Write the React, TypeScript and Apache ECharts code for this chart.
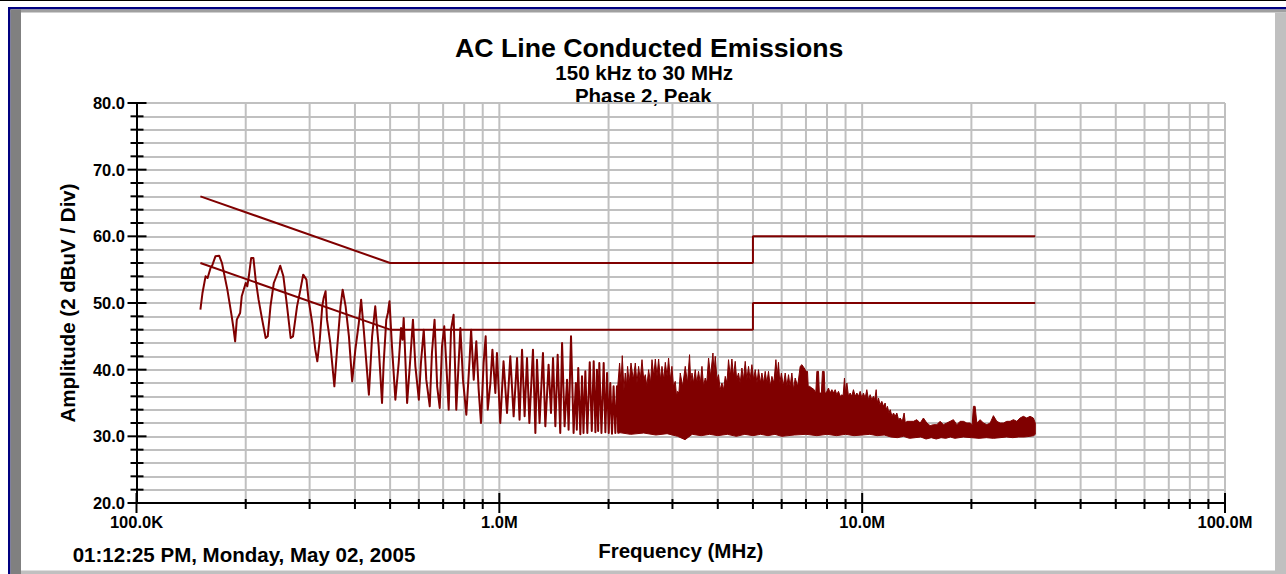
import React, { useEffect, useRef } from "react";
import * as echarts from "echarts";

const FONT = "'Liberation Sans', Arial, Helvetica, sans-serif";
const MAROON = "#800000";
const GRID_GRAY = "#c0c0c0";

const titleText = "AC Line Conducted Emissions";
const subtitleLine1 = "150 kHz to 30 MHz";
const subtitleLine2 = "Phase 2, Peak";
const xAxisTitle = "Frequency (MHz)";
const yAxisTitle = "Amplitude (2 dBuV / Div)";
const timestampText = "01:12:25 PM, Monday, May 02, 2005";

// axis ticks (MHz / dBuV)
const xDecadeTicks = [0.1, 1, 10, 100];
const xDecadeLabels = ["100.0K", "1.0M", "10.0M", "100.0M"];
const xMinorTicks = [
  0.2, 0.3, 0.4, 0.5, 0.6, 0.7, 0.8, 0.9,
  2, 3, 4, 5, 6, 7, 8, 9,
  20, 30, 40, 50, 60, 70, 80, 90,
];
const yMajorTicks = [20, 30, 40, 50, 60, 70, 80];
const yMinorTicks = [
  22, 24, 26, 28, 32, 34, 36, 38, 42, 44, 46, 48, 52, 54, 56, 58, 62, 64, 66, 68, 72, 74, 76, 78,
];

// limit lines [MHz, dBuV]
const quasiPeakLimit = [[0.15, 66], [0.5, 56], [5, 56], [5, 60], [30, 60]];
const averageLimit = [[0.15, 56], [0.5, 46], [5, 46], [5, 50], [30, 50]];

// measured peak trace, resolvable part [MHz, dBuV]
const traceLow = [
  [0.150, 49.0], [0.152, 51.5], [0.155, 54.0], [0.157, 53.75], [0.160, 55.25], [0.162, 55.75],
  [0.165, 57.0], [0.169, 57.1], [0.172, 56.0], [0.178, 52.0], [0.183, 48.0], [0.185, 46.25],
  [0.187, 44.25], [0.189, 47.5], [0.193, 48.5], [0.195, 51.0], [0.200, 53.0], [0.202, 52.5],
  [0.204, 54.0], [0.207, 56.75], [0.210, 56.75], [0.213, 53.5], [0.217, 50.5], [0.222, 47.5],
  [0.227, 44.75], [0.230, 45.0], [0.234, 49.5], [0.239, 53.0], [0.245, 54.5], [0.249, 55.6],
  [0.254, 54.0], [0.260, 49.5], [0.266, 44.75], [0.270, 45.0], [0.277, 49.5], [0.283, 52.0],
  [0.288, 54.25], [0.294, 53.5], [0.298, 50.5], [0.305, 47.0], [0.311, 43.0], [0.315, 41.25],
  [0.320, 44.5], [0.325, 49.5], [0.328, 50.75], [0.332, 51.75], [0.335, 47.5], [0.342, 44.0],
  [0.351, 37.5], [0.357, 43.0], [0.365, 49.5], [0.370, 52.0], [0.377, 49.5], [0.385, 45.0],
  [0.393, 38.25], [0.401, 43.0], [0.410, 47.0], [0.416, 50.5], [0.423, 46.0], [0.437, 36.25],
  [0.446, 45.0], [0.455, 49.5], [0.465, 43.5],
];
const traceMid = [
  [0.475, 35.0], [0.480, 41.0], [0.488, 47.5], [0.493, 48.5], [0.498, 50.25], [0.506, 43.5],
  [0.517, 35.5], [0.528, 41.0], [0.536, 46.25], [0.541, 44.5], [0.545, 47.75], [0.557, 35.0],
  [0.569, 42.0], [0.578, 47.5], [0.587, 40.5], [0.600, 35.5], [0.608, 41.0], [0.619, 46.0],
  [0.629, 38.5], [0.643, 34.5], [0.652, 42.5], [0.663, 47.5], [0.674, 37.5], [0.685, 34.25],
  [0.695, 43.5], [0.705, 46.5], [0.718, 38.5], [0.725, 34.0], [0.736, 46.0], [0.748, 48.25],
  [0.761, 34.0], [0.781, 46.25], [0.794, 38.5], [0.811, 33.25], [0.828, 41.5], [0.836, 46.0],
  [0.850, 38.5], [0.864, 44.25], [0.877, 37.0], [0.890, 32.0], [0.905, 41.0], [0.917, 45.0],
  [0.929, 34.0], [0.945, 38.0], [0.957, 43.0], [0.975, 36.5], [0.985, 42.5],
];
const traceHigh = [
  [1.006, 32.0], [1.027, 41.25], [1.050, 33.5], [1.072, 42.0], [1.095, 33.0], [1.119, 41.75],
  [1.137, 32.5], [1.155, 43.0], [1.174, 33.0], [1.192, 41.75], [1.210, 32.0], [1.238, 43.0],
  [1.257, 30.5], [1.270, 41.5], [1.291, 32.0], [1.319, 42.5], [1.339, 31.5], [1.367, 40.75],
  [1.388, 33.5], [1.406, 41.75], [1.427, 31.5], [1.448, 42.25], [1.472, 30.5], [1.489, 44.0],
  [1.513, 31.5], [1.537, 38.5], [1.552, 31.0], [1.576, 45.0], [1.602, 30.5], [1.625, 38.0],
  [1.635, 31.0], [1.650, 40.25], [1.672, 30.3], [1.690, 39.0], [1.706, 30.5], [1.726, 39.75],
  [1.748, 30.5], [1.775, 41.1], [1.798, 30.8], [1.820, 41.25], [1.840, 30.6], [1.858, 40.0],
  [1.872, 30.8], [1.886, 41.0], [1.912, 30.5], [1.939, 41.0], [1.960, 30.6], [1.981, 39.5],
  [2.002, 30.5], [2.022, 38.0], [2.044, 30.4], [2.065, 37.5], [2.088, 30.5], [2.110, 37.5],
  [2.130, 30.4],
];

// dense part of the trace: upper and lower envelope [MHz, dBuV]
const bandUpper = [
  [2.12, 37.5], [2.145, 41.0], [2.165, 38.0], [2.182, 42.1], [2.205, 37.0], [2.224, 39.5],
  [2.24, 37.5], [2.257, 40.5], [2.28, 38.0], [2.306, 41.0], [2.34, 38.5], [2.37, 41.0],
  [2.395, 38.0], [2.42, 40.5], [2.445, 38.5], [2.473, 41.5], [2.5, 38.5], [2.525, 39.25],
  [2.55, 37.5], [2.579, 40.0], [2.61, 38.0], [2.635, 41.5], [2.665, 39.0], [2.691, 41.6],
  [2.72, 39.0], [2.748, 41.6], [2.78, 38.5], [2.807, 40.5], [2.84, 38.5], [2.867, 41.1],
  [2.9, 39.0], [2.927, 41.75], [2.96, 38.5], [2.99, 40.5], [3.02, 37.5], [3.054, 38.25],
  [3.08, 36.0], [3.099, 36.75], [3.125, 36.5], [3.152, 39.5], [3.2, 37.5], [3.254, 40.5],
  [3.3, 38.0], [3.344, 42.25], [3.37, 38.0], [3.396, 39.5], [3.43, 38.0], [3.467, 40.0],
  [3.5, 38.0], [3.54, 39.75], [3.58, 38.0], [3.618, 40.5], [3.655, 37.5], [3.694, 38.75],
  [3.73, 38.0], [3.773, 41.75], [3.82, 39.0], [3.879, 42.5], [3.905, 39.5], [3.936, 42.0],
  [3.98, 38.5], [4.019, 39.25], [4.06, 37.0], [4.107, 38.0], [4.15, 37.0], [4.194, 39.0],
  [4.24, 38.0], [4.282, 41.5], [4.33, 39.0], [4.375, 41.6], [4.42, 39.0], [4.468, 41.25],
  [4.51, 38.5], [4.562, 39.5], [4.61, 38.0], [4.662, 40.25], [4.71, 38.5], [4.761, 41.25],
  [4.81, 38.5], [4.862, 40.5], [4.91, 38.5], [4.967, 40.75], [5.02, 38.5], [5.073, 40.0],
  [5.13, 38.0], [5.18, 40.0], [5.24, 38.0], [5.293, 39.5], [5.35, 38.0], [5.405, 39.75],
  [5.46, 38.0], [5.519, 39.75], [5.58, 37.5], [5.639, 39.0], [5.71, 38.0], [5.784, 41.5],
  [5.83, 39.0], [5.88, 41.1], [5.93, 38.0], [5.99, 39.5], [6.06, 37.5], [6.136, 39.5],
  [6.2, 37.5], [6.266, 39.25], [6.33, 37.5], [6.401, 39.5], [6.47, 37.0], [6.537, 38.75],
  [6.64, 37.5], [6.748, 40.5], [6.821, 40.75], [6.921, 40.25], [7.009, 39.75], [7.069, 39.75],
  [7.1, 37.5], [7.159, 37.5], [7.268, 37.25], [7.375, 37.0], [7.45, 36.5], [7.502, 39.75],
  [7.579, 39.75], [7.62, 36.5], [7.661, 36.5], [7.72, 36.5], [7.773, 39.75], [7.857, 39.75],
  [7.9, 36.5], [7.957, 36.5], [8.076, 37.25], [8.16, 36.5], [8.251, 37.0], [8.34, 36.5],
  [8.426, 37.0], [8.51, 36.25], [8.604, 36.75], [8.7, 36.0], [8.792, 36.25], [8.86, 36.0],
  [8.937, 38.75], [9.0, 36.5], [9.076, 38.0], [9.17, 36.0], [9.267, 36.5], [9.36, 36.0],
  [9.462, 37.0], [9.57, 36.0], [9.669, 36.5], [9.77, 36.0], [9.874, 36.75], [9.98, 35.75],
  [10.08, 36.5], [10.19, 35.75], [10.3, 37.0], [10.41, 35.5], [10.52, 36.25], [10.63, 35.5],
  [10.74, 36.0], [10.83, 35.5], [10.93, 37.0], [11.0, 35.0], [11.09, 35.75], [11.2, 34.75],
  [11.33, 35.25], [11.45, 34.5], [11.57, 35.0], [11.65, 34.0], [11.74, 34.5], [11.85, 33.5],
  [11.95, 34.0], [12.08, 33.0], [12.2, 33.5], [12.33, 33.0], [12.46, 33.5], [12.6, 32.5],
  [12.73, 32.75], [12.9, 32.25], [13.05, 33.5], [13.15, 32.0], [13.28, 32.25], [13.56, 32.25],
  [13.85, 32.25], [14.15, 32.5], [14.45, 32.0], [14.75, 32.75], [15.08, 32.0], [15.39, 31.6],
  [15.72, 31.75], [16.06, 31.75], [16.4, 32.25], [16.75, 31.75], [17.11, 32.0], [17.48, 32.25],
  [17.84, 32.5], [18.24, 31.75], [18.62, 32.25], [19.02, 32.25], [19.43, 32.0], [19.84, 32.0],
  [20.1, 31.75], [20.26, 34.5], [20.48, 34.5], [20.7, 32.0], [21.14, 32.5], [21.59, 32.0],
  [22.06, 31.75], [22.53, 32.0], [23.0, 33.1], [23.5, 32.25], [24.0, 32.0], [24.51, 32.0],
  [25.04, 32.25], [25.57, 32.25], [26.11, 32.5], [26.68, 32.25], [27.24, 32.75], [27.82, 33.0],
  [28.42, 32.75], [29.02, 33.0], [29.64, 32.75], [30.0, 32.0],
];
const bandLower = [
  [2.12, 30.6], [2.3, 30.3], [2.5, 30.5], [2.7, 30.2], [2.9, 30.4], [3.1, 30.0], [3.25, 29.5],
  [3.4, 30.3], [3.6, 30.1], [3.8, 30.3], [4.0, 30.1], [4.25, 30.3], [4.5, 30.0], [4.75, 30.3],
  [5.0, 30.1], [5.25, 30.3], [5.5, 30.1], [5.75, 30.3], [6.0, 30.0], [6.5, 30.2], [7.0, 30.3],
  [7.5, 30.1], [8.0, 30.3], [8.5, 30.1], [9.0, 30.3], [9.5, 30.1], [10.0, 30.2], [10.5, 30.3],
  [11.0, 30.1], [11.5, 30.2], [12.0, 29.9], [12.5, 29.8], [13.0, 30.0], [13.5, 29.7], [14.0, 29.8],
  [14.5, 29.9], [15.0, 29.6], [15.5, 29.8], [16.0, 29.6], [16.5, 29.8], [17.0, 29.7], [17.5, 29.9],
  [18.0, 29.7], [19.0, 29.9], [20.0, 29.8], [21.0, 29.7], [22.0, 29.8], [23.0, 29.7], [24.0, 29.8],
  [25.0, 29.9], [26.0, 29.8], [27.0, 29.9], [28.0, 29.9], [29.0, 30.0], [29.7, 30.1], [30.0, 30.3],
];

const traceData = [...traceLow, ...traceMid, ...traceHigh];

function lineEl(x1: number, y1: number, x2: number, y2: number, stroke: string) {
  return { type: "line", shape: { x1, y1, x2, y2 }, style: { stroke, lineWidth: 2 } };
}

function renderVerticalGrid(_params: any, api: any) {
  const children: any[] = [];
  const all = [...xMinorTicks, ...xDecadeTicks.slice(1)];
  for (const f of all) {
    const top = api.coord([f, 80]);
    const bot = api.coord([f, 20]);
    children.push(lineEl(top[0], top[1], bot[0], bot[1], GRID_GRAY));
  }
  return { type: "group", children };
}

function renderTicks(_params: any, api: any) {
  const children: any[] = [];
  const y0 = api.coord([1, 20])[1];
  const x0 = api.coord([0.1, 50])[0];
  for (const f of xDecadeTicks) {
    const x = api.coord([f, 20])[0];
    children.push(lineEl(x, y0 - 10, x, y0 + 10, "#000"));
  }
  for (const f of xMinorTicks) {
    const x = api.coord([f, 20])[0];
    children.push(lineEl(x, y0 - 4, x, y0 + 6, "#000"));
  }
  for (const v of yMajorTicks) {
    const y = api.coord([0.1, v])[1];
    children.push(lineEl(x0 - 9, y, x0 + 10, y, "#000"));
  }
  for (const v of yMinorTicks) {
    const y = api.coord([0.1, v])[1];
    children.push(lineEl(x0 - 6, y, x0 + 7, y, "#000"));
  }
  return { type: "group", children };
}

function renderBand(_params: any, api: any) {
  const pts = bandUpper.map((p) => api.coord(p));
  const low = bandLower.map((p) => api.coord(p)).reverse();
  return {
    type: "polygon",
    shape: { points: pts.concat(low) },
    style: { fill: MAROON, stroke: MAROON, lineWidth: 1 },
  };
}

function textEl(text: string, x: number, y: number, size: number, align: string) {
  return {
    type: "text",
    x,
    y,
    silent: true,
    style: {
      text,
      fill: "#000",
      fontSize: size,
      fontWeight: "bold",
      fontFamily: FONT,
      textAlign: align,
      align,
      textVerticalAlign: "middle",
      verticalAlign: "middle",
    },
  };
}

function rectEl(x: number, y: number, width: number, height: number, fill: string) {
  return { type: "rect", silent: true, shape: { x, y, width, height }, style: { fill } };
}

const labelStyle = { color: "#000", fontSize: 16.5, fontWeight: "bold", fontFamily: FONT };
const nameStyle = { color: "#000", fontSize: 20.5, fontWeight: "bold", fontFamily: FONT };

const option: any = {
  animation: false,
  backgroundColor: "#ffffff",
  textStyle: { fontFamily: FONT },
  grid: { left: 136.5, top: 103, right: 61, bottom: 71, containLabel: false, outerBoundsMode: "none" },
  xAxis: {
    type: "log",
    logBase: 10,
    min: 0.1,
    max: 100,
    z: 5,
    axisLine: { show: true, onZero: false, lineStyle: { color: "#000", width: 2 } },
    axisTick: { show: false },
    splitLine: { show: false },
    minorSplitLine: { show: false },
    axisLabel: {
      ...labelStyle,
      margin: 10,
      showMinLabel: true,
      showMaxLabel: true,
      hideOverlap: false,
      formatter: (v: number) => xDecadeLabels[Math.round(Math.log10(v)) + 1] ?? "",
    },
    name: xAxisTitle,
    nameLocation: "middle",
    nameGap: 37,
    nameMoveOverlap: false,
    nameTextStyle: nameStyle,
  },
  yAxis: {
    type: "value",
    min: 20,
    max: 80,
    interval: 10,
    axisLine: { show: true, onZero: false, lineStyle: { color: "#000", width: 2 } },
    axisTick: { show: false },
    minorTick: { show: false, splitNumber: 5 },
    splitLine: { show: true, lineStyle: { color: GRID_GRAY, width: 2 } },
    minorSplitLine: { show: true, lineStyle: { color: GRID_GRAY, width: 2 } },
    axisLabel: { ...labelStyle, margin: 11.5, formatter: (v: number) => v.toFixed(1) },
    name: yAxisTitle,
    nameLocation: "middle",
    nameGap: 59,
    nameRotate: 90,
    nameMoveOverlap: false,
    nameTextStyle: nameStyle,
  },
  series: [
    {
      type: "custom",
      name: "vgrid",
      coordinateSystem: "cartesian2d",
      silent: true,
      z: 1,
      data: [[1, 50]],
      renderItem: renderVerticalGrid,
    },
    {
      type: "line",
      name: "Quasi-peak limit",
      data: quasiPeakLimit,
      showSymbol: false,
      symbol: "none",
      z: 3,
      lineStyle: { color: MAROON, width: 2 },
      itemStyle: { color: MAROON },
    },
    {
      type: "line",
      name: "Average limit",
      data: averageLimit,
      showSymbol: false,
      symbol: "none",
      z: 3,
      lineStyle: { color: MAROON, width: 2 },
      itemStyle: { color: MAROON },
    },
    {
      type: "line",
      name: "Phase 2 peak",
      data: traceData,
      showSymbol: false,
      symbol: "none",
      z: 4,
      lineStyle: { color: MAROON, width: 2, join: "round" },
      itemStyle: { color: MAROON },
    },
    {
      type: "custom",
      name: "Phase 2 peak (dense)",
      coordinateSystem: "cartesian2d",
      silent: true,
      z: 4,
      data: [[1, 50]],
      renderItem: renderBand,
    },
    {
      type: "custom",
      name: "ticks",
      coordinateSystem: "cartesian2d",
      silent: true,
      z: 6,
      data: [[1, 50]],
      renderItem: renderTicks,
    },
  ],
  graphic: {
    elements: [
      rectEl(0, 0, 1286, 1, "#000000"),
      rectEl(8, 7, 1278, 2.5, "#000080"),
      rectEl(8, 7, 2.5, 567, "#000080"),
      rectEl(10.5, 9.5, 1275.5, 3, "#a0a0a0"),
      rectEl(10.5, 9.5, 10.5, 564.5, "#808080"),
      rectEl(1275, 12.5, 11, 561.5, "#c0c0c0"),
      rectEl(21, 570.5, 1254, 3.5, "#c0c0c0"),
      textEl(titleText, 649.2, 47.5, 26.7, "center"),
      textEl(subtitleLine1, 644.2, 72.2, 20.5, "center"),
      textEl(subtitleLine2, 643.3, 95, 20.5, "center"),
      textEl(timestampText, 72.7, 554.2, 20.5, "left"),
    ],
  },
};

export default function App() {
  const ref = useRef<HTMLDivElement>(null);
  useEffect(() => {
    if (!ref.current) return;
    const chart = echarts.init(ref.current, undefined, { renderer: "svg" });
    chart.setOption(option);
    return () => chart.dispose();
  }, []);
  return (
    <div
      ref={ref}
      style={{ position: "fixed", left: 0, top: 0, width: 1286, height: 574, background: "#ffffff" }}
    />
  );
}
